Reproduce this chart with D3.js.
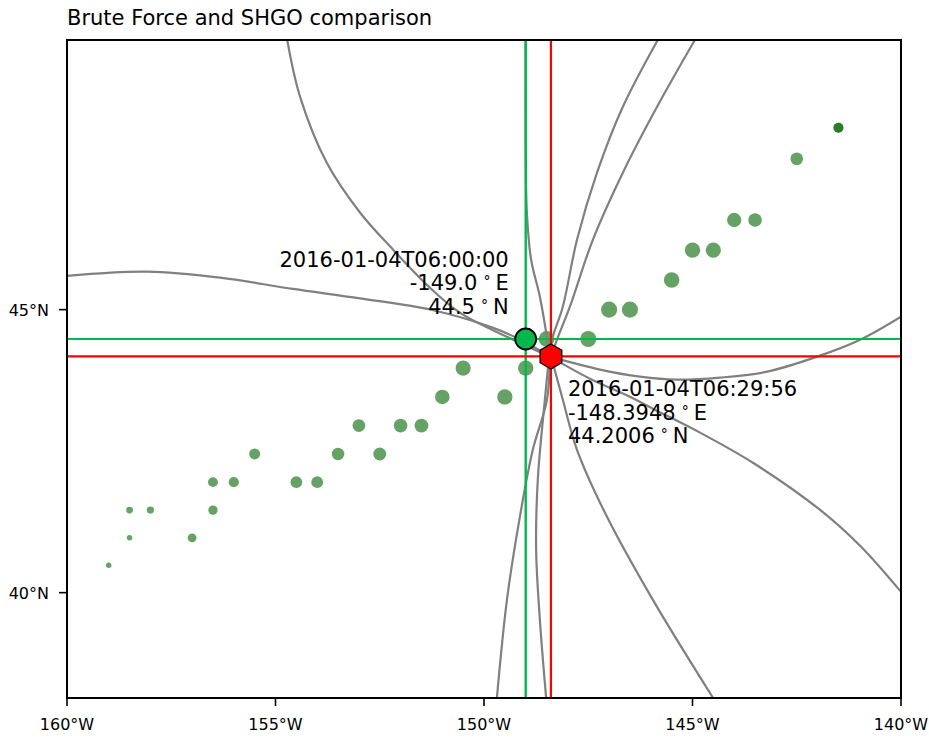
<!DOCTYPE html>
<html><head><meta charset="utf-8">
<script src="https://cdn.jsdelivr.net/npm/d3@7"></script>
<style>
body{margin:0;background:#fff;}
svg text{font-family:"DejaVu Sans",sans-serif;fill:#000;}
</style>
</head><body>
<svg id="chart" width="929" height="738"></svg>
<script>
// ---------------- data ----------------
const chartTitle = "Brute Force and SHGO comparison";
const lonExtent = [-160, -140];
const latExtent = [38.04, 49.39];
const lonTicks = [-160, -155, -150, -145, -140];
const lonTickLabels = ["160°W", "155°W", "150°W", "145°W", "140°W"];
const latTicks = [40, 45];
const latTickLabels = ["40°N", "45°N"];

// track points (lon, lat, marker area)
const trackLon = [-159.0, -158.5, -158.5, -158.0, -157.0, -156.5, -156.5, -156.0, -155.5, -154.5, -154.0,
  -153.5, -153.0, -152.5, -152.0, -151.5, -151.0, -150.5, -149.5, -149.0, -148.5, -147.5, -147.0,
  -146.5, -145.5, -145.0, -144.5, -144.0, -143.5, -142.5, -141.5, -141.5];
const trackLat = [40.5, 41.0, 41.5, 41.5, 41.0, 41.5, 42.0, 42.0, 42.5, 42.0, 42.0,
  42.5, 43.0, 42.5, 43.0, 43.0, 43.5, 44.0, 43.5, 44.0, 44.5, 44.5, 45.0,
  45.0, 45.5, 46.0, 46.0, 46.5, 46.5, 47.5, 48.0, 48.0];
const trackArea = [10, 10, 15, 17, 26, 29, 32, 34, 40, 46, 46,
  52, 54, 56, 62, 64, 70, 77, 78, 79, 82, 85, 86,
  86, 80, 79, 76, 68, 62, 53, 33, 33];

// gray locus curves, [lon, lat]
const arcA1 = [[-160.0,45.57],[-158.08,45.64],[-156.33,45.54],[-154.58,45.35],[-152.97,45.19],[-151.22,44.99],[-149.78,44.69],[-149.02,44.45],[-148.42,44.197]];
const arcA2 = [[-148.42,44.197],[-147.46,43.817],[-146.50,43.504],[-145.95,43.296],[-144.82,42.876],[-143.55,42.344],[-141.94,41.504],[-140.98,40.856],[-140.0,40.015]];
const arcB1 = [[-154.72,49.393],[-154.41,48.495],[-153.77,47.436],[-152.97,46.619],[-152.18,46.007],[-151.37,45.419],[-150.58,44.949],[-149.30,44.487],[-148.42,44.197]];
const arcB2 = [[-148.42,44.197],[-147.22,43.974],[-146.26,43.852],[-145.37,43.80],[-144.34,43.835],[-143.21,43.939],[-142.01,44.197],[-140.98,44.487],[-140.0,44.880]];
const arcC = [[-145.83,49.393],[-146.67,48.336],[-147.29,47.275],[-147.77,46.172],[-148.11,45.05],[-148.37,44.487],[-148.42,44.197]];
const arcD = [[-144.94,49.393],[-145.85,48.336],[-146.67,47.275],[-147.39,46.172],[-147.94,45.05],[-148.25,44.487],[-148.39,44.197]];
const arcE = [[-148.42,44.197],[-148.47,44.436],[-148.66,45.218],[-148.87,45.839],[-148.97,46.6],[-149.0,47.6],[-149.0,49.393]];
const arcF = [[-149.69,38.043],[-149.45,39.867],[-149.14,41.379],[-148.83,42.574],[-148.49,43.452],[-148.42,44.197]];
const arcG = [[-148.51,38.043],[-148.66,39.498],[-148.75,40.782],[-148.71,42.043],[-148.54,43.452],[-148.44,44.197]];
const arcH = [[-144.51,38.043],[-145.95,39.867],[-147.05,41.379],[-147.77,42.574],[-148.11,43.452],[-148.37,44.145]];
const arcs = [arcA1, arcA2, arcB1, arcB2, arcC, arcD, arcE, arcF, arcG, arcH];

// solutions
const bruteTime = "2016-01-04T06:00:00";
const bruteLonLat = [-149.0, 44.5];
const shgoTime = "2016-01-04T06:29:56";
const shgoLonLat = [-148.3948, 44.2006];

// ---------------- layout ----------------
const svg = d3.select("#chart");
const box = {x: 67, y: 40, w: 834, h: 658};

const projection = d3.geoMercator()
  .scale(box.w / ((lonExtent[1] - lonExtent[0]) * Math.PI / 180))
  .translate([0, 0]);
const tl = projection([lonExtent[0], latExtent[1]]);
projection.translate([box.x - tl[0], box.y - tl[1]]);

svg.append("defs").append("clipPath").attr("id", "plotclip")
  .append("rect").attr("x", box.x).attr("y", box.y).attr("width", box.w).attr("height", box.h);

const plot = svg.append("g").attr("clip-path", "url(#plotclip)");

// track dots
const rScale = d3.scaleSqrt().domain([0, 100]).range([0, 8.68]);
plot.append("g").selectAll("circle")
  .data(trackLon.map((lon, i) => ({lon, lat: trackLat[i], a: trackArea[i]})))
  .join("circle")
  .attr("cx", d => projection([d.lon, d.lat])[0])
  .attr("cy", d => projection([d.lon, d.lat])[1])
  .attr("r", d => rScale(d.a))
  .attr("fill", "darkgreen")
  .attr("fill-opacity", 0.6);

// gray curves
const lineGen = d3.line().curve(d3.curveCatmullRom.alpha(0.5));
plot.append("g").selectAll("path")
  .data(arcs)
  .join("path")
  .attr("d", d => lineGen(d.map(p => projection(p))))
  .attr("fill", "none")
  .attr("stroke", "#808080")
  .attr("stroke-width", 2.2);

// crosshair lines
const greenCol = "#00b84c";
const bp = projection(bruteLonLat);
const sp = projection(shgoLonLat);
const lines = plot.append("g");
lines.append("line").attr("x1", bp[0]).attr("x2", bp[0]).attr("y1", box.y).attr("y2", box.y + box.h)
  .attr("stroke", greenCol).attr("stroke-width", 2.4);
lines.append("line").attr("x1", box.x).attr("x2", box.x + box.w).attr("y1", bp[1]).attr("y2", bp[1])
  .attr("stroke", greenCol).attr("stroke-width", 2.2);
lines.append("line").attr("x1", sp[0]).attr("x2", sp[0]).attr("y1", box.y).attr("y2", box.y + box.h)
  .attr("stroke", "#ff0000").attr("stroke-width", 2.2);
lines.append("line").attr("x1", box.x).attr("x2", box.x + box.w).attr("y1", sp[1]).attr("y2", sp[1])
  .attr("stroke", "#ff0000").attr("stroke-width", 2.2);

// markers
plot.append("circle").attr("cx", bp[0]).attr("cy", bp[1]).attr("r", 10.5)
  .attr("fill", greenCol).attr("stroke", "#000").attr("stroke-width", 1.8);
const hexR = 12.5;
const hexPts = d3.range(6).map(k => {
  const a = -Math.PI / 2 + k * Math.PI / 3;
  return [sp[0] + hexR * Math.cos(a), sp[1] + hexR * Math.sin(a)];
});
plot.append("polygon").attr("points", hexPts.map(p => p.join(",")).join(" "))
  .attr("fill", "#ff0000").attr("stroke", "#000").attr("stroke-width", 1.3);

// annotations
function addLabel(x, y, anchor, parts) {
  const t = svg.append("text").attr("x", x).attr("y", y).attr("text-anchor", anchor).style("font-size", "21px");
  t.append("tspan").text(parts[0]);
  t.append("tspan").attr("dx", 6).attr("dy", -4).style("font-size", "14px").text("°");
  t.append("tspan").attr("dx", 5).attr("dy", 4).text(parts[1]);
  return t;
}
const a1x = bp[0] - 17, a1y = bp[1] - 72;
svg.append("text").attr("x", a1x).attr("y", a1y).attr("text-anchor", "end").style("font-size", "21px").text(bruteTime);
addLabel(a1x, a1y + 23.5, "end", [bruteLonLat[0].toFixed(1), "E"]);
addLabel(a1x, a1y + 47, "end", [bruteLonLat[1].toFixed(1), "N"]);

const a2x = sp[0] + 17, a2y = sp[1] + 40;
svg.append("text").attr("x", a2x).attr("y", a2y).attr("text-anchor", "start").style("font-size", "21px").text(shgoTime);
addLabel(a2x, a2y + 23.5, "start", [shgoLonLat[0].toFixed(4), "E"]);
addLabel(a2x, a2y + 47, "start", [shgoLonLat[1].toFixed(4), "N"]);

// frame
svg.append("rect").attr("x", box.x).attr("y", box.y).attr("width", box.w).attr("height", box.h)
  .attr("fill", "none").attr("stroke", "#000").attr("stroke-width", 2);

// ticks
const xt = svg.append("g");
lonTicks.forEach((lon, i) => {
  const x = projection([lon, latExtent[0]])[0];
  xt.append("line").attr("x1", x).attr("x2", x).attr("y1", box.y + box.h).attr("y2", box.y + box.h + 8)
    .attr("stroke", "#000").attr("stroke-width", 1.6);
  xt.append("text").attr("x", x).attr("y", box.y + box.h + 32).attr("text-anchor", "middle")
    .style("font-size", "16px").text(lonTickLabels[i]);
});
latTicks.forEach((lat, i) => {
  const y = projection([lonExtent[0], lat])[1];
  xt.append("line").attr("x1", box.x - 8).attr("x2", box.x).attr("y1", y).attr("y2", y)
    .attr("stroke", "#000").attr("stroke-width", 1.6);
  xt.append("text").attr("x", box.x - 18).attr("y", y + 6).attr("text-anchor", "end")
    .style("font-size", "16px").text(latTickLabels[i]);
});

// title
svg.append("text").attr("x", box.x).attr("y", 25).style("font-size", "21px").text(chartTitle);
</script>
</body></html>
